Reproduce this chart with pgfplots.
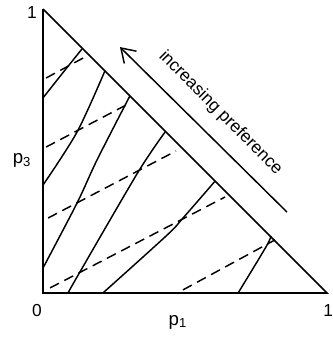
\documentclass[border=0pt]{standalone}
\usepackage{fontspec}
\setmainfont{Liberation Sans}
\usepackage{pgfplots}
\pgfplotsset{compat=1.18}
\usetikzlibrary{arrows.meta}

% indifference curves (solid)
\pgfplotstableread{
x y
0.000 0.687
0.068 0.773
0.137 0.859
}\curveA
\pgfplotstableread{
x y
0.000 0.380
0.120 0.567
0.218 0.782
}\curveB
\pgfplotstableread{
x y
0.000 0.088
0.120 0.317
0.190 0.468
0.306 0.694
}\curveC
\pgfplotstableread{
x y
0.088 0.000
0.130 0.074
0.335 0.426
0.430 0.567
}\curveD
\pgfplotstableread{
x y
0.211 0.000
0.437 0.204
0.493 0.264
0.606 0.394
}\curveE
\pgfplotstableread{
x y
0.687 0.000
0.785 0.162
0.803 0.201
}\curveF

\begin{document}
\begin{tikzpicture}
\begin{axis}[
    x=213pt, y=213pt,
    xmin=0, xmax=1, ymin=0, ymax=1,
    enlargelimits=false,
    hide axis,
    clip=false,
    every axis plot/.append style={black},
    solid/.style={line width=1.1pt, smooth, tension=0.5},
    dsh/.style={line width=1.1pt, dash pattern=on 7.5pt off 4.5pt},
]
% triangle
\addplot[line width=1.3pt, line join=miter] coordinates {(0,1) (0,0) (1,0) (0,1)};

\addplot[solid] table {\curveA};
\addplot[solid] table {\curveB};
\addplot[solid] table {\curveC};
\addplot[solid] table {\curveD};
\addplot[solid] table {\curveE};
\addplot[solid] table {\curveF};

% iso-expected-value lines (dashed)
\addplot[dsh] coordinates {(0.011,0.757) (0.148,0.831)};
\addplot[dsh] coordinates {(0.011,0.514) (0.306,0.669)};
\addplot[dsh] coordinates {(0.018,0.264) (0.468,0.500)};
\addplot[dsh] coordinates {(0.025,0.018) (0.641,0.338)};
\addplot[dsh] coordinates {(0.493,0.011) (0.817,0.187)};

% direction of preference
\addplot[line width=1.1pt, -{Straight Barb[length=10pt,width=13pt]}]
    coordinates {(0.859,0.285) (0.271,0.866)};
\node[rotate=-45, font=\fontsize{13}{15}\selectfont] at (axis cs:0.625,0.634) {increasing preference};

\node[font=\fontsize{13}{15}\selectfont] at (axis cs:-0.039,0.989) {1};
\node[font=\fontsize{13}{15}\selectfont] at (axis cs:-0.021,-0.060) {0};
\node[font=\fontsize{13}{15}\selectfont] at (axis cs:1.004,-0.060) {1};
\node[font=\fontsize{14}{16}\selectfont] at (axis cs:-0.074,0.468) {p\textsubscript{3}};
\node[font=\fontsize{14}{16}\selectfont] at (axis cs:0.475,-0.102) {p\textsubscript{1}};
\end{axis}
\pgfresetboundingbox
\path (-32.25pt,-33pt) rectangle (217.5pt,219.75pt);
\end{tikzpicture}
\end{document}
